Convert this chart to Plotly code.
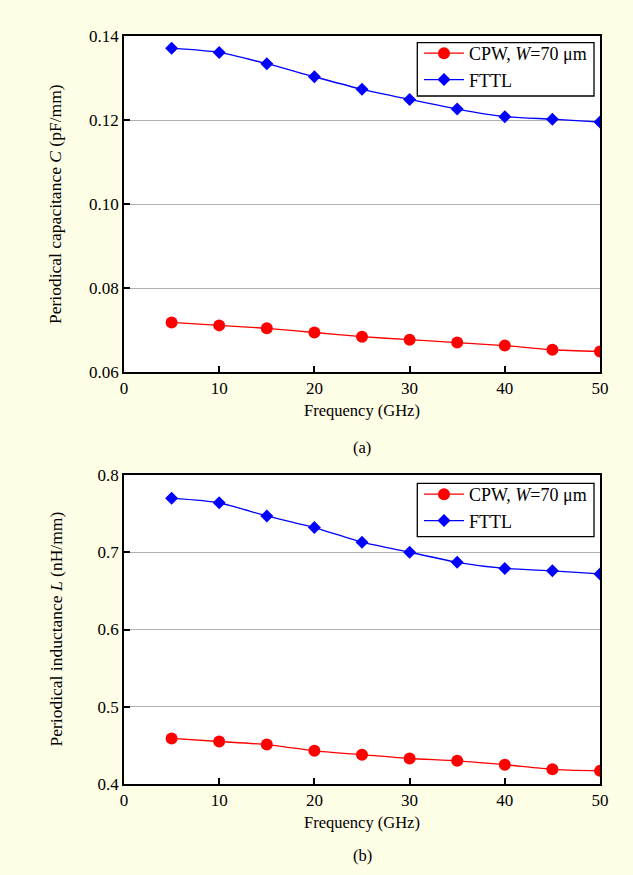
import plotly.graph_objects as go
from plotly.subplots import make_subplots

freq = [5, 10, 15, 20, 25, 30, 35, 40, 45, 50]
cap_cpw = [0.0718, 0.0711, 0.0704, 0.0694, 0.0684, 0.0677, 0.0670, 0.0663, 0.0653, 0.0649]
cap_fttl = [0.1371, 0.1361, 0.1334, 0.1303, 0.1273, 0.1249, 0.1226, 0.1208, 0.1202, 0.1195]
ind_cpw = [0.459, 0.455, 0.451, 0.443, 0.438, 0.433, 0.430, 0.425, 0.419, 0.417]
ind_fttl = [0.770, 0.764, 0.747, 0.732, 0.713, 0.700, 0.687, 0.679, 0.676, 0.672]

x_ticks = [0, 10, 20, 30, 40, 50]
cap_ticks = [0.06, 0.08, 0.10, 0.12, 0.14]
ind_ticks = [0.4, 0.5, 0.6, 0.7, 0.8]

cpw_name = "CPW, <i>W</i>=70 μm"
fttl_name = "FTTL"

FONT = "Liberation Serif, Times New Roman, serif"
BG = "#FEFDE6"

W, H = 633, 875
ml, mr, mt, mb = 124, 33, 36, 91
pw = W - ml - mr
ph = H - mt - mb

def px(pix):
    return (pix - ml) / pw

def py(pix):
    return (H - mb - pix) / ph

fig = make_subplots(rows=2, cols=1)

def add_pair(cpw, fttl, row, legend):
    fig.add_trace(go.Scatter(x=freq, y=cpw, name=cpw_name, mode="lines+markers",
                             line=dict(color="#FF0000", width=1.3, shape="spline", smoothing=0.6),
                             marker=dict(symbol="circle", size=12, color="#FF0000"),
                             legend=legend), row=row, col=1)
    fig.add_trace(go.Scatter(x=freq, y=fttl, name=fttl_name, mode="lines+markers",
                             line=dict(color="#0000FF", width=1.3, shape="spline", smoothing=0.6),
                             marker=dict(symbol="diamond", size=10, color="#0000FF"),
                             legend=legend), row=row, col=1)

add_pair(cap_cpw, cap_fttl, 1, "legend")
add_pair(ind_cpw, ind_fttl, 2, "legend2")

axis_common = dict(showline=True, linecolor="black", linewidth=1.6, mirror=True,
                   ticks="inside", ticklen=6, tickwidth=1.6, tickcolor="black",
                   tickfont=dict(family=FONT, size=17, color="black"), zeroline=False)

fig.update_xaxes(range=[0, 50], tickvals=x_ticks, showgrid=False,
                 title=dict(text="Frequency (GHz)", font=dict(family=FONT, size=16.5, color="black"), standoff=7),
                 **axis_common)
fig.update_yaxes(showgrid=True, gridcolor="#B0B0B0", gridwidth=1.2, **axis_common)

top_lo = py(372)
bot_hi = py(475)

fig.update_layout(
    width=W, height=H,
    margin=dict(l=ml, r=mr, t=mt, b=mb, autoexpand=False),
    paper_bgcolor=BG, plot_bgcolor="white",
    font=dict(family=FONT, size=16, color="black"),
    xaxis=dict(domain=[0, 1], anchor="y"),
    yaxis=dict(domain=[top_lo, 1], range=[0.06, 0.14], tickvals=cap_ticks, tickformat=".2f"),
    xaxis2=dict(domain=[0, 1], anchor="y2"),
    yaxis2=dict(domain=[0, bot_hi], range=[0.4, 0.8], tickvals=ind_ticks, tickformat=".1f"),
    legend=dict(x=px(419), y=py(35), xanchor="left", yanchor="top",
                bgcolor="rgba(0,0,0,0)", borderwidth=0,
                font=dict(family=FONT, size=18), itemwidth=40, tracegroupgap=0),
    legend2=dict(x=px(419), y=py(476), xanchor="left", yanchor="top",
                 bgcolor="rgba(0,0,0,0)", borderwidth=0,
                 font=dict(family=FONT, size=18), itemwidth=40, tracegroupgap=0),
    showlegend=True,
)

# legend frames
for (y0, y1) in [(42.7, 96), (483.3, 536.7)]:
    fig.add_shape(type="rect", xref="paper", yref="paper",
                  x0=px(417.3), x1=px(594), y0=py(y1), y1=py(y0),
                  fillcolor="white", line=dict(color="black", width=1.3), layer="above")

# y-axis titles
fig.add_annotation(text="Periodical capacitance <i>C</i> (pF/mm)", textangle=-90,
                   x=px(55), xref="paper", y=(top_lo + 1) / 2, yref="paper",
                   showarrow=False, font=dict(family=FONT, size=17.5),
                   xanchor="center", yanchor="middle")
fig.add_annotation(text="Periodical inductance <i>L</i> (nH/mm)", textangle=-90,
                   x=px(55), xref="paper", y=bot_hi / 2, yref="paper",
                   showarrow=False, font=dict(family=FONT, size=17.5),
                   xanchor="center", yanchor="middle")

fig.add_annotation(text="(a)", x=0.5, xref="paper", y=py(447), yref="paper",
                   showarrow=False, font=dict(family=FONT, size=16.5), yanchor="middle")
fig.add_annotation(text="(b)", x=0.5, xref="paper", y=py(855), yref="paper",
                   showarrow=False, font=dict(family=FONT, size=16.5), yanchor="middle")

fig.write_html("out.html", config={"displayModeBar": False},
               post_script="document.body.style.margin='0';document.body.style.background='" + BG + "';")
